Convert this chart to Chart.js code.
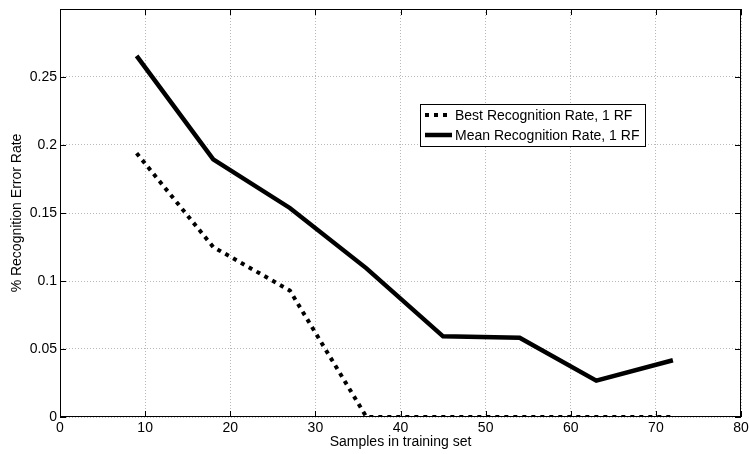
<!DOCTYPE html>
<html>
<head>
<meta charset="utf-8">
<script src="https://cdn.jsdelivr.net/npm/chart.js@4"></script>
<style>
  html, body { margin: 0; padding: 0; background: #fff; }
  #wrap { width: 749px; height: 454px; }
</style>
</head>
<body>
<div id="wrap"><canvas id="errChart"></canvas></div>
<script>
const samples = [9, 18, 27, 36, 45, 54, 63, 72];
const bestRate = [0.194, 0.125, 0.093, 0, 0, 0, 0, 0];
const meanRate = [0.2655, 0.1895, 0.1537, 0.1093, 0.0593, 0.0583, 0.0267, 0.0417];
const xTicks = [0, 10, 20, 30, 40, 50, 60, 70, 80];
const yTicks = [0, 0.05, 0.1, 0.15, 0.2, 0.25];
const seriesNames = ["Best Recognition Rate, 1 RF", "Mean Recognition Rate, 1 RF"];

const FONT = "'Liberation Sans', Arial, Helvetica, sans-serif";

const toPoints = (ys) => samples.map((x, i) => ({ x: x, y: ys[i] }));

// box, inward ticks and the legend, matlab style
const matlabFrame = {
    id: 'matlabFrame',
    afterDraw(chart) {
        const { ctx, chartArea: a, scales } = chart;
        ctx.save();
        ctx.strokeStyle = '#000';
        ctx.lineWidth = 1;
        ctx.strokeRect(a.left + 0.5, a.top + 0.5, a.right - a.left - 1, a.bottom - a.top - 1);
        const tl = 6;
        ctx.beginPath();
        xTicks.forEach(v => {
            const px = Math.round(scales.x.getPixelForValue(v)) + 0.5;
            ctx.moveTo(px, a.bottom); ctx.lineTo(px, a.bottom - tl);
            ctx.moveTo(px, a.top); ctx.lineTo(px, a.top + tl);
        });
        yTicks.forEach(v => {
            const py = Math.round(scales.y.getPixelForValue(v)) + 0.5;
            ctx.moveTo(a.left, py); ctx.lineTo(a.left + tl, py);
            ctx.moveTo(a.right, py); ctx.lineTo(a.right - tl, py);
        });
        ctx.stroke();

        // legend
        const lx = 420, ly = 104, lw = 225, lh = 42;
        ctx.fillStyle = '#fff';
        ctx.fillRect(lx, ly, lw, lh);
        ctx.strokeRect(lx + 0.5, ly + 0.5, lw, lh);
        ctx.font = '14px ' + FONT;
        ctx.textBaseline = 'middle';
        chart.data.datasets.forEach((ds, i) => {
            const y = ly + 11 + i * 20;
            ctx.save();
            ctx.strokeStyle = '#000';
            ctx.lineWidth = ds.borderWidth;
            ctx.setLineDash(ds.borderDash || []);
            ctx.beginPath();
            ctx.moveTo(lx + 5, y);
            ctx.lineTo(lx + 32, y);
            ctx.stroke();
            ctx.restore();
            ctx.fillStyle = '#000';
            ctx.fillText(ds.label, lx + 35, y + 1);
        });
        ctx.restore();
    }
};

const ctx = document.getElementById('errChart').getContext('2d');

new Chart(ctx, {
    type: 'line',
    data: {
        datasets: [{
            label: seriesNames[0],
            data: toPoints(bestRate),
            borderColor: '#000',
            borderWidth: 4,
            borderDash: [4, 5],
            borderCapStyle: 'butt',
            pointRadius: 0,
            tension: 0
        }, {
            label: seriesNames[1],
            data: toPoints(meanRate),
            borderColor: '#000',
            borderWidth: 4.5,
            pointRadius: 0,
            tension: 0
        }]
    },
    options: {
        responsive: true,
        maintainAspectRatio: false,
        animation: false,
        layout: { padding: { top: 9, right: 8, left: 0, bottom: 0 } },
        plugins: {
            legend: { display: false },
            tooltip: { enabled: false }
        },
        scales: {
            x: {
                type: 'linear',
                min: 0,
                max: 80,
                afterBuildTicks: (s) => { s.ticks = xTicks.map(v => ({ value: v })); },
                afterFit: (s) => { s.height = 37; s.paddingLeft = 0; s.paddingRight = 0; },
                grid: { color: '#b8b8b8', drawTicks: false },
                border: { display: false, dash: [1, 2] },
                ticks: { color: '#000', padding: 3, maxRotation: 0, font: { family: FONT, size: 14 } },
                title: {
                    display: true,
                    text: 'Samples in training set',
                    color: '#000',
                    font: { family: FONT, size: 14 },
                    padding: { top: 0, bottom: 3 }
                }
            },
            y: {
                min: 0,
                max: 0.3,
                afterBuildTicks: (s) => { s.ticks = yTicks.concat([0.3]).map(v => ({ value: v })); },
                afterFit: (s) => { s.width = 60; s.paddingTop = 0; s.paddingBottom = 0; },
                grid: { color: '#b8b8b8', drawTicks: false },
                border: { display: false, dash: [1, 2] },
                ticks: {
                    color: '#000',
                    padding: 3,
                    font: { family: FONT, size: 14 },
                    callback: (v) => yTicks.includes(v) ? String(v) : ''
                },
                title: {
                    display: true,
                    text: '% Recognition Error Rate',
                    color: '#000',
                    font: { family: FONT, size: 14 },
                    padding: { top: 9, bottom: 0 }
                }
            }
        }
    },
    plugins: [matlabFrame]
});
</script>
</body>
</html>
